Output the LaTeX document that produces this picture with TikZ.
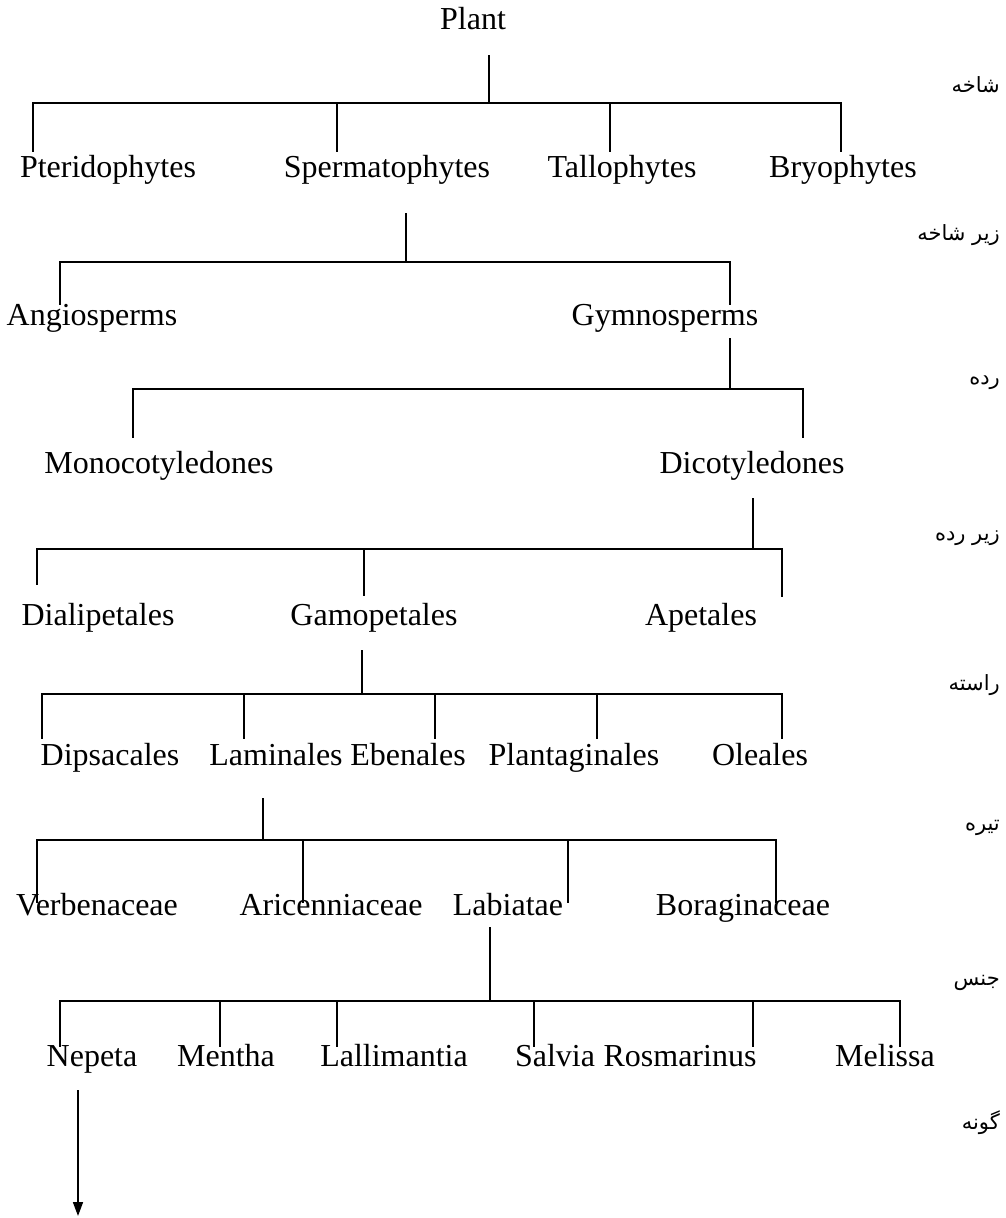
\documentclass[tikz,border=0pt]{standalone}
\usepackage{fontspec}
\setmainfont{Liberation Serif}
\newfontfamily\arabicfont[Script=Arabic]{DejaVu Sans}
\TeXXeTstate=1
\usetikzlibrary{arrows.meta}
\begin{document}
\begin{tikzpicture}[x=1pt,y=-1pt,
  taxon/.style={anchor=base,inner sep=0pt,font=\fontsize{32}{38}\selectfont},
  rank/.style={anchor=east,inner sep=0pt,font=\arabicfont\fontsize{21}{24}\selectfont},
  link/.style={line width=1.6pt,line cap=butt}]
\useasboundingbox[fill=white] (0,0) rectangle (1006,1218);
% ---- texts
\node[taxon] (plant) at (473,29) {Plant};
\node[taxon] (pter) at (108,177) {Pteridophytes};
\node[taxon] (sper) at (387,177) {Spermatophytes};
\node[taxon] (tall) at (622,177) {Tallophytes};
\node[taxon] (bryo) at (843,177) {Bryophytes};
\node[taxon] (angi) at (92,325) {Angiosperms};
\node[taxon] (gymn) at (665,325) {Gymnosperms};
\node[taxon] (mono) at (159,473) {Monocotyledones};
\node[taxon] (dico) at (752,473) {Dicotyledones};
\node[taxon] (dial) at (98,625) {Dialipetales};
\node[taxon] (gamo) at (374,625) {Gamopetales};
\node[taxon] (apet) at (701,625) {Apetales};
\node[taxon] (dips) at (110,765) {Dipsacales};
\node[taxon] (lami) at (276,765) {Laminales};
\node[taxon] (eben) at (408,765) {Ebenales};
\node[taxon] (plan) at (574,765) {Plantaginales};
\node[taxon] (olea) at (760,765) {Oleales};
\node[taxon] (verb) at (97,915) {Verbenaceae};
\node[taxon] (aric) at (331,915) {Aricenniaceae};
\node[taxon] (labi) at (508,915) {Labiatae};
\node[taxon] (bora) at (743,915) {Boraginaceae};
\node[taxon] (nepe) at (92,1066) {Nepeta};
\node[taxon] (ment) at (226,1066) {Mentha};
\node[taxon] (lall) at (394,1066) {Lallimantia};
\node[taxon] (salv) at (555,1066) {Salvia};
\node[taxon] (rosm) at (680,1066) {Rosmarinus};
\node[taxon] (meli) at (885,1066) {Melissa};
% ---- rank labels
\node[rank] (r1) at (1000,85) {\beginR شاخه\endR};
\node[rank] (r2) at (1000,235) {\beginR زیر شاخه\endR};
\node[rank] (r3) at (1000,383) {\beginR رده\endR};
\node[rank] (r4) at (1000,538) {\beginR زیر رده\endR};
\node[rank] (r5) at (1000,685) {\beginR راسته\endR};
\node[rank] (r6) at (1000,828) {\beginR تیره\endR};
\node[rank] (r7) at (1000,983) {\beginR جنس\endR};
\node[rank] (r8) at (1000,1123) {\beginR گونه\endR};
% ---- level 1
\coordinate (a0) at (489,55); \coordinate (a1) at (489,103);
\coordinate (a2) at (33,152); \coordinate (a3) at (337,152);
\coordinate (a4) at (610,152); \coordinate (a5) at (841,152);
\draw[link] (a0) -- (a1);
\draw[link] (a1) -| (a2); \draw[link] (a1) -| (a3);
\draw[link] (a1) -| (a4); \draw[link] (a1) -| (a5);
% ---- level 2
\coordinate (b0) at (406,213); \coordinate (b1) at (406,262);
\coordinate (b2) at (60,305); \coordinate (b3) at (730,305);
\draw[link] (b0) -- (b1);
\draw[link] (b1) -| (b2); \draw[link] (b1) -| (b3);
% ---- level 3
\coordinate (c0) at (730,338); \coordinate (c1) at (730,389);
\coordinate (c2) at (133,438); \coordinate (c3) at (803,438);
\draw[link] (c0) -- (c1);
\draw[link] (c1) -| (c2); \draw[link] (c1) -| (c3);
% ---- level 4
\coordinate (e0) at (753,498); \coordinate (e1) at (753,549);
\coordinate (e2) at (37,585); \coordinate (e3) at (364,596); \coordinate (e4) at (782,597);
\draw[link] (e0) -- (e1);
\draw[link] (e1) -| (e2); \draw[link] (e1) -| (e3); \draw[link] (e1) -| (e4);
% ---- level 5
\coordinate (f0) at (362,650); \coordinate (f1) at (362,694);
\coordinate (f2) at (42,739); \coordinate (f3) at (244,739); \coordinate (f4) at (435,739);
\coordinate (f5) at (597,739); \coordinate (f6) at (782,739);
\draw[link] (f0) -- (f1);
\draw[link] (f1) -| (f2); \draw[link] (f1) -| (f3); \draw[link] (f1) -| (f4);
\draw[link] (f1) -| (f5); \draw[link] (f1) -| (f6);
% ---- level 6
\coordinate (g0) at (263,798); \coordinate (g1) at (263,840);
\coordinate (g2) at (37,903); \coordinate (g3) at (303,903);
\coordinate (g4) at (568,903); \coordinate (g5) at (776,903);
\draw[link] (g0) -- (g1);
\draw[link] (g1) -| (g2); \draw[link] (g1) -| (g3);
\draw[link] (g1) -| (g4); \draw[link] (g1) -| (g5);
% ---- level 7
\coordinate (h0) at (490,927); \coordinate (h1) at (490,1001);
\coordinate (h2) at (60,1047); \coordinate (h3) at (220,1047); \coordinate (h4) at (337,1047);
\coordinate (h5) at (534,1047); \coordinate (h6) at (753,1047); \coordinate (h7) at (900,1047);
\draw[link] (h0) -- (h1);
\draw[link] (h1) -| (h2); \draw[link] (h1) -| (h3); \draw[link] (h1) -| (h4);
\draw[link] (h1) -| (h5); \draw[link] (h1) -| (h6); \draw[link] (h1) -| (h7);
% ---- species arrow
\coordinate (k0) at (78,1090); \coordinate (k1) at (78,1216);
\draw[link,-{Triangle[length=14pt,width=10pt]}] (k0) -- (k1);
\end{tikzpicture}
\end{document}
